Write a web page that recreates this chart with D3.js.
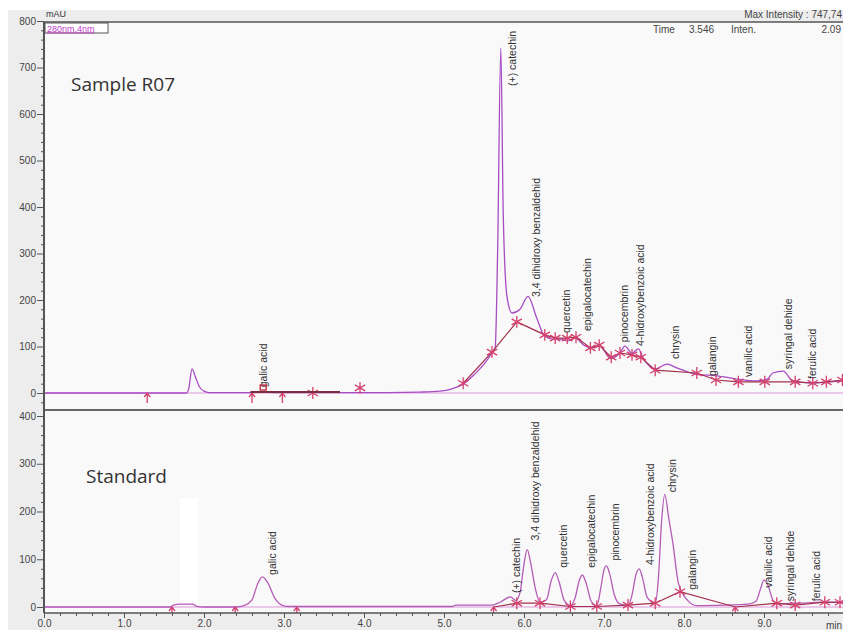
<!DOCTYPE html>
<html lang="en">
<head>
<meta charset="utf-8">
<title>Chromatogram 280nm - Sample R07 vs Standard</title>
<script src="https://d3js.org/d3.v7.min.js"></script>
<style>
  body { margin: 0; background: #fff; }
  text { font-family: "Liberation Sans", Arial, sans-serif; }
</style>
</head>
<body>
<div id="stage"></div>
<script>
// sample R07 trace: retention time (min) / absorbance (mAU)
var sampleTime = [0, 1.78, 1.81, 1.85, 1.89, 1.94, 2.00, 2.06, 2.60, 2.72, 2.85, 4.30, 4.70, 4.95, 5.10, 5.24,
  5.38, 5.50, 5.60, 5.64, 5.67, 5.71, 5.74, 5.77, 5.80, 5.85, 5.95, 6.05, 6.16, 6.26, 6.36, 6.45, 6.55, 6.64,
  6.74, 6.83, 6.95, 7.08, 7.20, 7.26, 7.35, 7.43, 7.49, 7.64, 7.79, 7.91, 8.16, 8.41, 8.66, 8.91, 9.04, 9.11,
  9.24, 9.36, 9.61, 9.99];
var sampleMAU = [0, 0, 10, 52, 36, 14, 4, 1, 1, 3, 1, 1, 2, 4, 9, 19,
  40, 62, 86, 98, 300, 742, 390, 240, 195, 172, 180, 208, 161, 122, 116, 116, 112, 118,
  104, 97, 101, 75, 86, 101, 86, 95, 75, 52, 62, 54, 40, 37, 30, 26, 30, 43,
  47, 26, 22, 26];

// standard mix trace
var standardTime = [0, 1.58, 1.62, 1.70, 1.86, 1.90, 2.00, 2.40, 2.50, 2.60, 2.67, 2.73, 2.80, 2.88, 2.96,
  3.05, 5.10, 5.15, 5.60, 5.70, 5.83, 5.90, 5.95, 6.00, 6.04, 6.08, 6.14, 6.20, 6.28, 6.34, 6.39, 6.44, 6.50,
  6.58, 6.64, 6.69, 6.73, 6.78, 6.84, 6.91, 6.96, 7.00, 7.03, 7.07, 7.13, 7.20, 7.30, 7.35, 7.40, 7.44, 7.48,
  7.54, 7.64, 7.68, 7.72, 7.76, 7.81, 7.86, 7.93, 8.04, 8.16, 8.50, 8.80, 8.90, 8.96, 9.00, 9.05, 9.12, 9.20,
  9.35, 9.50, 9.70, 10.0];
var standardMAU = [0, 0, 4, 6, 6, 2, 0, 0, 3, 15, 48, 63, 50, 20, 5,
  1, 1, 4, 4, 10, 21, 14, 30, 90, 120, 95, 40, 10, 15, 55, 72, 52, 15,
  3, 20, 55, 67, 48, 12, 3, 40, 78, 86, 70, 25, 6, 4, 25, 68, 80, 62,
  20, 8, 60, 180, 236, 185, 135, 50, 15, 3, 4, 6, 12, 40, 57, 45, 12, 6,
  8, 8, 10, 10];

// integration marks (asterisks) and baseline start arrows
var sampleMarkTime = [3.36, 3.95, 5.24, 5.60, 5.91, 6.26, 6.39, 6.54, 6.65, 6.83, 6.94, 7.09, 7.20, 7.35, 7.46,
  7.64, 8.16, 8.40, 8.68, 9.01, 9.39, 9.61, 9.78, 9.98];
var sampleMarkMAU = [0, 11, 21, 88, 153, 125, 118, 118, 120, 97, 103, 77, 86, 82, 77,
  49, 43, 28, 24, 24, 24, 21, 24, 28];
var sampleArrowTime = [1.29, 2.60, 2.98];

var standardMarkTime = [5.91, 6.20, 6.58, 6.91, 7.30, 7.64, 7.95, 9.16, 9.39, 9.76, 9.95];
var standardMarkMAU = [8, 8, 1, 1, 4, 8, 32, 8, 4, 10, 10];
var standardArrowTime = [1.60, 2.39, 3.16, 5.62, 8.64];

// peak names with retention time and the height where the label starts
var sampleLabels = ["galic acid", "(+) catechin", "3,4 dihidroxy benzaldehid", "quercetin", "epigalocatechin",
  "pinocembrin", "4-hidroxybenzoic acid", "chrysin", "galangin", "vanilic acid", "syringal dehide", "ferulic acid"];
var sampleLabelTime = [2.74, 5.85, 6.15, 6.53, 6.79, 7.25, 7.45, 7.89, 8.35, 8.80, 9.30, 9.60];
var sampleLabelMAU = [8, 656, 202, 125, 129, 105, 97, 69, 32, 30, 47, 26];

var standardLabels = sampleLabels;
var standardLabelTime = [2.85, 5.91, 6.14, 6.49, 6.84, 7.14, 7.58, 7.86, 8.10, 9.05, 9.33, 9.66];
var standardLabelMAU = [63, 25, 135, 78, 78, 93, 84, 236, 32, 36, 8, 8];

var xTicks = [0, 1, 2, 3, 4, 5, 6, 7, 8, 9];
var sampleYTicks = [0, 100, 200, 300, 400, 500, 600, 700, 800];
var standardYTicks = [0, 100, 200, 300, 400];

var W = 843, H = 630;
var padL = 44, padR = 843, plotTop = 22, split = 410, plotBottom = 613;

var svg = d3.select("#stage").append("svg").attr("width", W).attr("height", H);

// grey frame and plot areas
svg.append("rect").attr("x", 8).attr("y", 10).attr("width", W - 8).attr("height", H - 10).attr("fill", "#ededed");
svg.append("rect").attr("x", padL).attr("y", plotTop).attr("width", padR - padL).attr("height", plotBottom - plotTop).attr("fill", "#f9f9f9");
svg.append("rect").attr("x", 180).attr("y", 498).attr("width", 18).attr("height", 106).attr("fill", "#ffffff");

var x = d3.scaleLinear().domain([0, 10]).range([padL, 844]);
var yS = d3.scaleLinear().domain([0, 800]).range([393, 21]);
var yD = d3.scaleLinear().domain([0, 400]).range([607, 416]);

var defs = svg.append("defs");
defs.append("clipPath").attr("id", "clipTop").append("rect")
  .attr("x", padL).attr("y", plotTop).attr("width", padR - padL).attr("height", split - plotTop);
defs.append("clipPath").attr("id", "clipBot").append("rect")
  .attr("x", padL).attr("y", split).attr("width", padR - padL).attr("height", plotBottom - split);

function drawPanel(clip, y, times, vals, markT, markV, arrowT, names, labT, labV, traceColor, baseFrom) {
  var g = svg.append("g").attr("clip-path", "url(#" + clip + ")");
  var pts = times.map(function (t, i) { return [t, vals[i]]; });
  var line = d3.line().x(function (d) { return x(d[0]); }).y(function (d) { return y(d[1]); })
    .curve(d3.curveMonotoneX);

  // zero line
  g.append("line").attr("x1", padL).attr("x2", padR).attr("y1", y(0)).attr("y2", y(0))
    .attr("stroke", "#e6b8e6").attr("stroke-width", 1.5);

  g.append("path").attr("d", line(pts)).attr("fill", "none")
    .attr("stroke", traceColor).attr("stroke-width", 1.3);

  // integration baseline
  var base = [];
  markT.forEach(function (t, i) { if (t >= baseFrom) base.push([t, markV[i]]); });
  arrowT.forEach(function (t) { if (t >= baseFrom) base.push([t, 0]); });
  base.sort(function (a, b) { return a[0] - b[0]; });
  g.append("path").attr("d", d3.line().x(function (d) { return x(d[0]); }).y(function (d) { return y(d[1]); })(base))
    .attr("fill", "none").attr("stroke", "#a3304c").attr("stroke-width", 1.2);

  var star = d3.symbol().type(d3.symbolAsterisk).size(100);
  g.selectAll(".mk").data(markT).enter().append("path")
    .attr("transform", function (t, i) { return "translate(" + x(t) + "," + y(markV[i]) + ")"; })
    .attr("d", star).attr("fill", "none").attr("stroke", "#d4416e").attr("stroke-width", 1.3);

  g.selectAll(".ar").data(arrowT).enter().append("path")
    .attr("transform", function (t) { return "translate(" + x(t) + "," + y(0) + ")"; })
    .attr("d", "M0,0 L0,10 M-3,4 L0,0 L3,4").attr("fill", "none")
    .attr("stroke", "#d4416e").attr("stroke-width", 1.3);

  g.selectAll(".lb").data(names).enter().append("text")
    .attr("transform", function (n, i) { return "translate(" + x(labT[i]) + "," + (y(labV[i]) - 2) + ") rotate(-90)"; })
    .attr("dy", "0.35em").attr("font-size", "10.5px").attr("fill", "#333")
    .text(function (n) { return n; });
  return g;
}

var gTop = drawPanel("clipTop", yS, sampleTime, sampleMAU, sampleMarkTime, sampleMarkMAU, sampleArrowTime,
  sampleLabels, sampleLabelTime, sampleLabelMAU, "#a84cc4", 5);
// galic acid integration in the sample
gTop.append("line").attr("x1", x(2.58)).attr("x2", x(3.7)).attr("y1", yS(0) - 1).attr("y2", yS(0) - 1)
  .attr("stroke", "#7a2e3e").attr("stroke-width", 2);
gTop.append("rect").attr("x", x(2.74) - 3).attr("y", yS(0) - 8).attr("width", 6).attr("height", 5)
  .attr("fill", "none").attr("stroke", "#c0203c").attr("stroke-width", 1.3);

drawPanel("clipBot", yD, standardTime, standardMAU, standardMarkTime, standardMarkMAU, standardArrowTime,
  standardLabels, standardLabelTime, standardLabelMAU, "#b45cb6", 5.5);

// axes
function yAxis(y, ticks, lo, hi) {
  var minor = d3.range(lo, hi + 1, 20).filter(function (v) { return v % 100 !== 0; });
  var gMin = svg.append("g").attr("transform", "translate(" + padL + ",0)")
    .call(d3.axisLeft(y).tickValues(minor).tickSize(3).tickFormat(""));
  gMin.select(".domain").remove();
  gMin.selectAll("line").attr("stroke", "#555");
  var gMaj = svg.append("g").attr("transform", "translate(" + padL + ",0)")
    .call(d3.axisLeft(y).tickValues(ticks).tickSize(7).tickPadding(1));
  gMaj.select(".domain").remove();
  gMaj.selectAll("line").attr("stroke", "#555");
  gMaj.selectAll("text").attr("font-size", "10px").attr("fill", "#444")
    .attr("font-family", "Liberation Sans, Arial, sans-serif");
}
yAxis(yS, sampleYTicks, -20, 800);
yAxis(yD, standardYTicks, 0, 400);

var xMinor = d3.range(0, 50).map(function (i) { return i * 0.2; }).filter(function (v) { return Math.abs(v - Math.round(v)) > 0.01; });
var gxm = svg.append("g").attr("transform", "translate(0," + plotBottom + ")")
  .call(d3.axisBottom(x).tickValues(xMinor).tickSize(3).tickFormat(""));
gxm.select(".domain").remove();
gxm.selectAll("line").attr("stroke", "#555");
var gx = svg.append("g").attr("transform", "translate(0," + plotBottom + ")")
  .call(d3.axisBottom(x).tickValues(xTicks).tickSize(5).tickPadding(2).tickFormat(d3.format(".1f")));
gx.select(".domain").remove();
gx.selectAll("line").attr("stroke", "#555");
gx.selectAll("text").attr("font-size", "10px").attr("fill", "#444")
  .attr("font-family", "Liberation Sans, Arial, sans-serif");
svg.append("text").attr("x", 842).attr("y", plotBottom + 16).attr("text-anchor", "end")
  .attr("font-size", "10px").attr("fill", "#444").text("min");

// frame lines
svg.append("line").attr("x1", padL).attr("x2", padR).attr("y1", plotTop).attr("y2", plotTop).attr("stroke", "#555").attr("stroke-width", 1.5);
svg.append("line").attr("x1", padL).attr("x2", padR).attr("y1", split).attr("y2", split).attr("stroke", "#666").attr("stroke-width", 2);
svg.append("line").attr("x1", padL).attr("x2", padR).attr("y1", plotBottom).attr("y2", plotBottom).attr("stroke", "#555").attr("stroke-width", 1.5);
svg.append("line").attr("x1", padL).attr("x2", padL).attr("y1", plotTop).attr("y2", plotBottom).attr("stroke", "#555").attr("stroke-width", 2);

// header texts
svg.append("text").attr("x", 46).attr("y", 17).attr("font-size", "9px").attr("fill", "#333").text("mAU");
svg.append("text").attr("x", 842).attr("y", 18).attr("text-anchor", "end").attr("font-size", "10px").attr("fill", "#444").text("Max Intensity : 747,74");
svg.append("text").attr("x", 653).attr("y", 33).attr("font-size", "10px").attr("fill", "#444").text("Time");
svg.append("text").attr("x", 689).attr("y", 33).attr("font-size", "10px").attr("fill", "#444").text("3.546");
svg.append("text").attr("x", 731).attr("y", 33).attr("font-size", "10px").attr("fill", "#444").text("Inten.");
svg.append("text").attr("x", 841).attr("y", 33).attr("font-size", "10px").attr("fill", "#444").attr("text-anchor", "end").text("2.09");

svg.append("rect").attr("x", 45).attr("y", 23).attr("width", 63).attr("height", 10)
  .attr("fill", "#fff").attr("stroke", "#555").attr("stroke-width", 1);
svg.append("text").attr("x", 47).attr("y", 31.5).attr("font-size", "9px").attr("fill", "#c03cc8")
  .attr("text-decoration", "underline").text("280nm,4nm");

svg.append("text").attr("x", 71).attr("y", 91).attr("font-size", "19px").attr("fill", "#333")
  .style("font-family", "'Open Sans', sans-serif").text("Sample R07");
svg.append("text").attr("x", 86).attr("y", 483).attr("font-size", "19px").attr("fill", "#333")
  .style("font-family", "'Open Sans', sans-serif").text("Standard");
</script>
</body>
</html>
